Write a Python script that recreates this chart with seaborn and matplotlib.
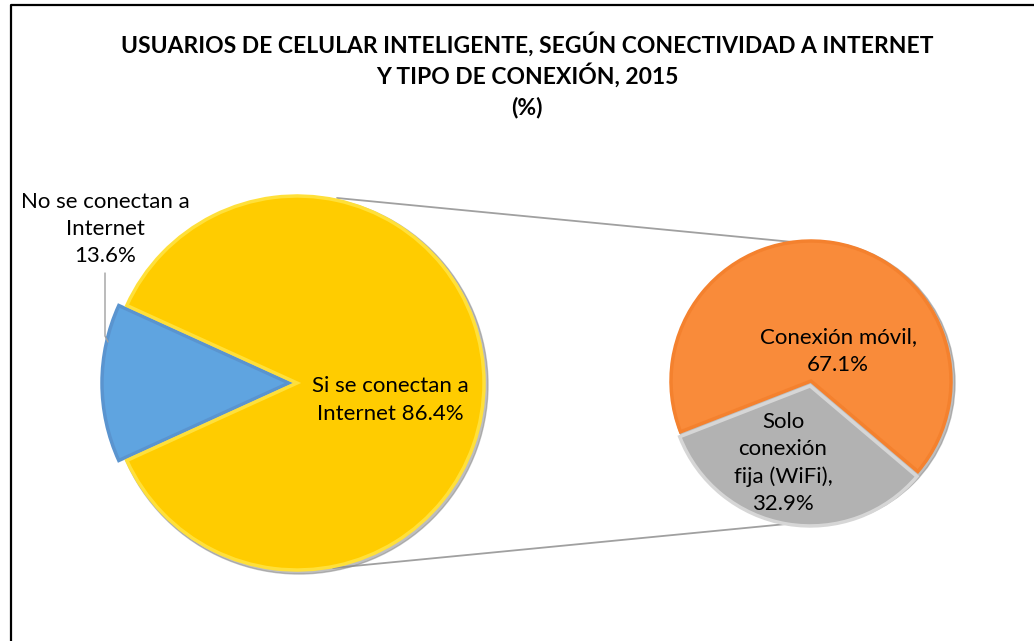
import matplotlib
matplotlib.use("Agg")
import matplotlib.pyplot as plt
import seaborn as sns
from matplotlib.patches import Circle

sns.set_theme(style="white")
plt.rcParams['font.family'] = ['Lato', 'DejaVu Sans']

# ---- data ----
title_lines = ["USUARIOS DE CELULAR INTELIGENTE, SEGÚN CONECTIVIDAD A INTERNET",
               "Y TIPO DE CONEXIÓN, 2015", "(%)"]
main_labels = ["No se conectan a\nInternet\n13.6%", "Si se conectan a\nInternet 86.4%"]
main_values = [13.6, 86.4]
sub_labels = ["Conexión móvil,\n67.1%", "Solo\nconexión\nfija (WiFi),\n32.9%"]
sub_values = [67.1, 32.9]

main_colors = ["#5FA4E0", "#FFCC00"]
main_edges = ["#5A94CF", "#FFE03A"]
sub_colors = ["#F98B3A", "#B2B2B2"]
sub_edges = ["#F4812E", "#D6D6D6"]

W, H = 1034, 641
fig = plt.figure(figsize=(W / 100, H / 100), dpi=100)
ax = fig.add_axes([0, 0, 1, 1])


def Y(y):
    return H - y


# main pie
c1, r1 = (297, Y(383)), 187
blue_half = main_values[0] / 100 * 360 / 2
ax.add_patch(Circle((c1[0] + 2, c1[1] - 2), r1 + 2, color="#8A8A8A", alpha=0.55, zorder=1))
wedges, _ = ax.pie(main_values, colors=main_colors, startangle=180 - blue_half,
                   center=c1, radius=r1, explode=[8, 0],
                   wedgeprops=dict(linewidth=2.5, zorder=2), frame=True)
for w, ec in zip(wedges, main_edges):
    w.set_edgecolor(ec)

# sub pie
c2, r2 = (811, Y(381)), 140
grey_deg = sub_values[1] / 100 * 360
grey_mid = 260.5
start2 = grey_mid + grey_deg / 2
ax.add_patch(Circle((c2[0] + 2, c2[1] - 2), r2 + 2, color="#8A8A8A", alpha=0.55, zorder=1))
wedges2, _ = ax.pie(sub_values, colors=sub_colors, startangle=start2,
                    center=c2, radius=r2, explode=[0, 5],
                    wedgeprops=dict(linewidth=2.5, zorder=2), frame=True)
for w, ec in zip(wedges2, sub_edges):
    w.set_edgecolor(ec)

# connector lines
ax.plot([337, 803], [Y(198), Y(243)], color="#A0A0A0", lw=1.3, zorder=0)
ax.plot([333, 807], [Y(568), Y(522)], color="#A0A0A0", lw=1.3, zorder=0)

# leader line for small slice
ax.plot([105, 105, 108], [Y(273), Y(336), Y(342)], color="#A0A0A0", lw=1, zorder=4)

# labels
fs = 16
ls = 1.45
ax.text(105, Y(229), main_labels[0], ha="center", va="center", fontsize=fs,
        linespacing=ls, color="black", zorder=5)
ax.text(390, Y(400), main_labels[1], ha="center", va="center", fontsize=fs,
        linespacing=ls, color="black", zorder=5)
ax.text(838, Y(351), sub_labels[0], ha="center", va="center", fontsize=fs,
        linespacing=ls, color="black", zorder=5)
ax.text(783, Y(463), sub_labels[1], ha="center", va="center", fontsize=fs,
        linespacing=ls, color="black", zorder=5)

# title
ty = [44, 75, 107]
for t, y in zip(title_lines, ty):
    ax.text(527, Y(y), t, ha="center", va="center", fontsize=16.5,
            fontweight="bold", color="black", zorder=5)

# border (left and top only visible)
ax.plot([10.5, 10.5, W + 5], [-5, Y(4.5), Y(4.5)], color="black", lw=1.6,
        zorder=6, clip_on=False)

ax.set_xlim(0, W)
ax.set_ylim(0, H)
ax.set_aspect("auto")
ax.set_axis_off()
fig.savefig("out.png", dpi=100, facecolor="white")
